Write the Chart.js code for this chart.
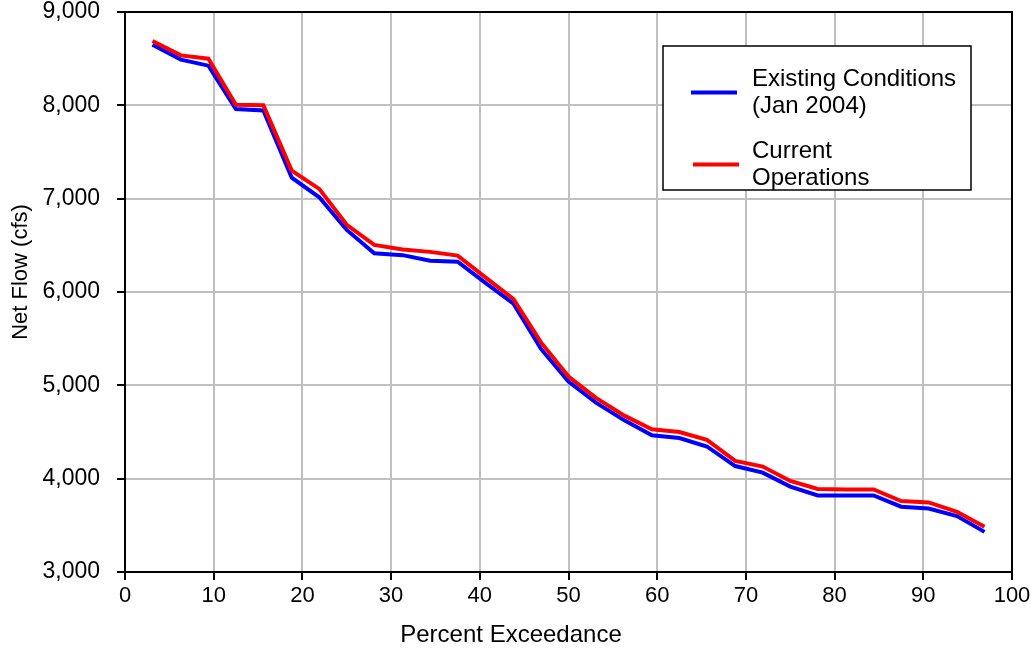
<!DOCTYPE html>
<html>
<head>
<meta charset="utf-8">
<title>Net Flow Exceedance</title>
<script src="https://cdn.jsdelivr.net/npm/chart.js@4"></script>
<style>
  html, body { margin: 0; padding: 0; background: #fff; }
  #wrap { width: 1031px; height: 649px; }
</style>
</head>
<body>
<div id="wrap"><canvas id="flowChart"></canvas></div>
<script>
// percent exceedance for each ranked value
const exceedance = [3.1, 6.3, 9.4, 12.5, 15.6, 18.8, 21.9, 25.0, 28.1, 31.3, 34.4, 37.5, 40.6, 43.8, 46.9,
  50.0, 53.1, 56.3, 59.4, 62.5, 65.6, 68.8, 71.9, 75.0, 78.1, 81.3, 84.4, 87.5, 90.6, 93.8, 96.9];

// net flow (cfs)
const existing = [8650, 8490, 8425, 7960, 7945, 7225, 7015, 6665, 6415, 6395, 6335, 6325, 6100, 5875, 5390,
  5040, 4815, 4625, 4465, 4435, 4345, 4135, 4065, 3915, 3820, 3820, 3820, 3700, 3680, 3600, 3430];
const current = [8690, 8535, 8500, 8005, 8000, 7300, 7105, 6720, 6505, 6455, 6430, 6390, 6160, 5925, 5460,
  5095, 4865, 4675, 4530, 4500, 4415, 4190, 4130, 3975, 3890, 3885, 3885, 3760, 3745, 3645, 3485];

const seriesNames = [['Existing Conditions', '(Jan 2004)'], ['Current', 'Operations']];
const xTitle = 'Percent Exceedance';
const yTitle = 'Net Flow (cfs)';

const FONT = '"Liberation Sans", Arial, sans-serif';

function toPoints(xs, ys) {
  return xs.map((x, i) => ({ x: x, y: ys[i] }));
}

// black frame around the plot area, the legend box and the axis titles
const framePlugin = {
  id: 'frame',
  afterDatasetsDraw(chart) {
    const { ctx, chartArea: a } = chart;
    ctx.save();
    ctx.strokeStyle = '#000';
    ctx.lineWidth = 2;
    ctx.strokeRect(a.left, a.top, a.right - a.left, a.bottom - a.top);
    ctx.restore();
  },
  afterDraw(chart) {
    const { ctx } = chart;
    ctx.save();

    // legend
    const bx = 663, by = 46, bw = 308, bh = 144;
    ctx.fillStyle = '#fff';
    ctx.fillRect(bx, by, bw, bh);
    ctx.strokeStyle = '#000';
    ctx.lineWidth = 1.5;
    ctx.strokeRect(bx, by, bw, bh);

    const rows = [
      { sampleY: 92.5, x0: 691, x1: 737, textY: [86, 113] },
      { sampleY: 164.5, x0: 693, x1: 739, textY: [158, 185] }
    ];
    ctx.font = '24px ' + FONT;
    ctx.textBaseline = 'alphabetic';
    ctx.textAlign = 'left';
    rows.forEach((r, i) => {
      const ds = chart.data.datasets.find(d => d.key === i);
      ctx.strokeStyle = ds.borderColor;
      ctx.lineWidth = 4;
      ctx.beginPath();
      ctx.moveTo(r.x0, r.sampleY);
      ctx.lineTo(r.x1, r.sampleY);
      ctx.stroke();
      ctx.fillStyle = '#000';
      seriesNames[i].forEach((line, j) => ctx.fillText(line, 752, r.textY[j]));
    });

    // axis titles
    ctx.fillStyle = '#000';
    ctx.textAlign = 'center';
    ctx.textBaseline = 'middle';
    ctx.font = '24px ' + FONT;
    ctx.fillText(xTitle, 511, 635);
    ctx.font = '22px ' + FONT;
    ctx.translate(21, 272);
    ctx.rotate(-Math.PI / 2);
    ctx.fillText(yTitle, 0, 0);
    ctx.restore();
  }
};

new Chart(document.getElementById('flowChart'), {
  type: 'line',
  data: {
    datasets: [
      {
        key: 0,
        label: seriesNames[0].join(' '),
        data: toPoints(exceedance, existing),
        borderColor: '#0000ff',
        borderWidth: 4,
        pointRadius: 0,
        tension: 0,
        order: 1
      },
      {
        key: 1,
        label: seriesNames[1].join(' '),
        data: toPoints(exceedance, current),
        borderColor: '#ff0000',
        borderWidth: 4,
        pointRadius: 0,
        tension: 0,
        order: 0
      }
    ]
  },
  options: {
    responsive: true,
    maintainAspectRatio: false,
    animation: false,
    layout: { padding: { top: 12, right: 19, bottom: 0, left: 0 } },
    plugins: {
      legend: { display: false },
      tooltip: { enabled: false },
      title: { display: false }
    },
    scales: {
      x: {
        type: 'linear',
        min: 0,
        max: 100,
        afterFit(scale) {
          scale.height = 77;
          scale.paddingLeft = 0;
          scale.paddingRight = 0;
        },
        ticks: {
          stepSize: 10,
          color: '#000',
          padding: 3,
          font: { family: FONT, size: 22 }
        },
        grid: {
          color: '#c0c0c0',
          lineWidth: 2,
          tickColor: '#000',
          tickLength: 8,
          tickWidth: 2
        },
        border: { display: true, color: '#000', width: 2 }
      },
      y: {
        min: 3000,
        max: 9000,
        afterFit(scale) {
          scale.width = 125;
          scale.paddingTop = 0;
          scale.paddingBottom = 0;
        },
        ticks: {
          stepSize: 1000,
          color: '#000',
          padding: 17,
          font: { family: FONT, size: 23 },
          callback: v => v.toLocaleString('en-US')
        },
        grid: {
          color: '#c0c0c0',
          lineWidth: 2,
          tickColor: '#000',
          tickLength: 8,
          tickWidth: 2
        },
        border: { display: true, color: '#000', width: 2 }
      }
    }
  },
  plugins: [framePlugin]
});
</script>
</body>
</html>
